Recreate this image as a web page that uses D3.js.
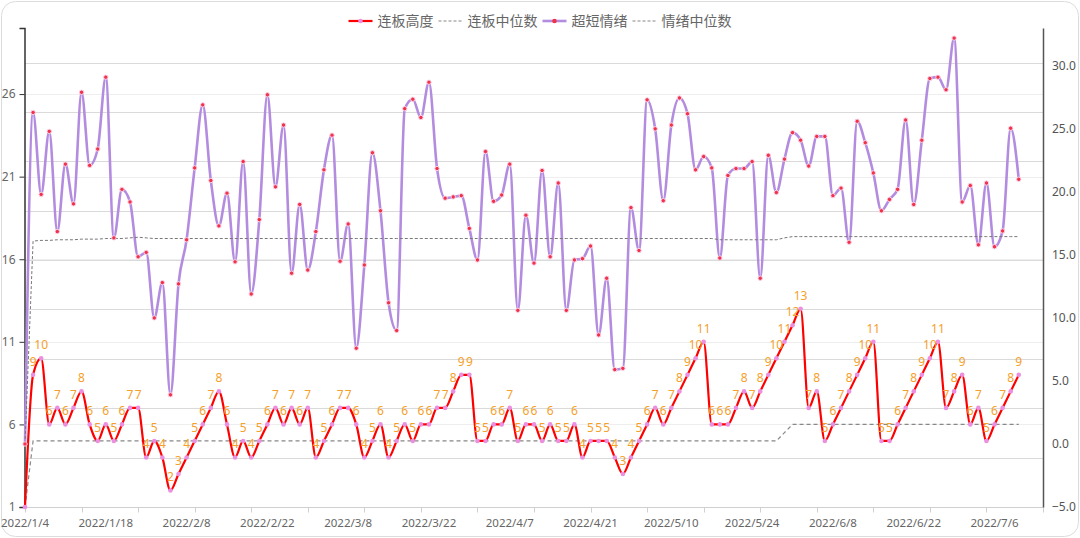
<!DOCTYPE html>
<html>
<head>
<meta charset="utf-8">
<script src="https://cdn.jsdelivr.net/npm/d3@7/dist/d3.min.js"></script>
<style>
  body { margin: 0; background: #fff; }
  svg { display: block; font-family: "Noto Sans", "Noto Sans CJK SC", sans-serif; }
</style>
</head>
<body>
<div id="chart"></div>
<script>
// trading days shown on the category axis
const dates = [
  "2022/1/4","2022/1/5","2022/1/6","2022/1/7","2022/1/10","2022/1/11","2022/1/12","2022/1/13","2022/1/14","2022/1/17",
  "2022/1/18","2022/1/19","2022/1/20","2022/1/21","2022/1/24","2022/1/25","2022/1/26","2022/1/27","2022/1/28",
  "2022/2/7","2022/2/8","2022/2/9","2022/2/10","2022/2/11","2022/2/14","2022/2/15","2022/2/16","2022/2/17","2022/2/18",
  "2022/2/21","2022/2/22","2022/2/23","2022/2/24","2022/2/25","2022/2/28",
  "2022/3/1","2022/3/2","2022/3/3","2022/3/4","2022/3/7","2022/3/8","2022/3/9","2022/3/10","2022/3/11","2022/3/14",
  "2022/3/15","2022/3/16","2022/3/17","2022/3/18","2022/3/21","2022/3/22","2022/3/23","2022/3/24","2022/3/25",
  "2022/3/28","2022/3/29","2022/3/30","2022/3/31",
  "2022/4/1","2022/4/6","2022/4/7","2022/4/8","2022/4/11","2022/4/12","2022/4/13","2022/4/14","2022/4/15","2022/4/18",
  "2022/4/19","2022/4/20","2022/4/21","2022/4/22","2022/4/25","2022/4/26","2022/4/27","2022/4/28","2022/4/29",
  "2022/5/5","2022/5/6","2022/5/9","2022/5/10","2022/5/11","2022/5/12","2022/5/13","2022/5/16","2022/5/17","2022/5/18",
  "2022/5/19","2022/5/20","2022/5/23","2022/5/24","2022/5/25","2022/5/26","2022/5/27","2022/5/30","2022/5/31",
  "2022/6/1","2022/6/2","2022/6/6","2022/6/7","2022/6/8","2022/6/9","2022/6/10","2022/6/13","2022/6/14","2022/6/15",
  "2022/6/16","2022/6/17","2022/6/20","2022/6/21","2022/6/22","2022/6/23","2022/6/24","2022/6/27","2022/6/28",
  "2022/6/29","2022/6/30",
  "2022/7/1","2022/7/4","2022/7/5","2022/7/6","2022/7/7","2022/7/8","2022/7/11","2022/7/12","2022/7/13","2022/7/14"
];

// 连板高度 (left axis)
const boardHeight = [
  1,9,10,6,7,6,7,8,6,5, 6,5,6,7,7,4,5,4,2,3,
  4,5,6,7,8,6,4,5,4,5, 6,7,6,7,6,7,4,5,6,7,
  7,6,4,5,6,4,5,6,5,6, 6,7,7,8,9,9,5,5,6,6,
  7,5,6,6,5,6,5,5,6,4, 5,5,5,4,3,4,5,6,7,6,
  7,8,9,10,11,6,6,6,7,8, 7,8,9,10,11,12,13,7,8,5,
  6,7,8,9,10,11,5,5,6,7, 8,9,10,11,7,8,9,6,7,5,
  6,7,8,9
];

// 连板中位数 (left axis)
const boardMedian = [
  1,5,5,5,5,5,5,5,5,5, 5,5,5,5,5,5,5,5,5,5,
  5,5,5,5,5,5,5,5,5,5, 5,5,5,5,5,5,5,5,5,5,
  5,5,5,5,5,5,5,5,5,5, 5,5,5,5,5,5,5,5,5,5,
  5,5,5,5,5,5,5,5,5,5, 5,5,5,5,5,5,5,5,5,5,
  5,5,5,5,5,5,5,5,5,5, 5,5,5,5,5.5,6,6,6,6,6,
  6,6,6,6,6,6,6,6,6,6, 6,6,6,6,6,6,6,6,6,6,
  6,6,6,6
];

// 超短情绪 (right axis)
const mood = [
  0,26.3,19.8,24.8,16.85,22.2,19.05,27.9,22.1,23.4,
  29.1,16.35,20.2,19.2,14.85,15.2,10.0,12.8,3.9,12.7,
  16.2,21.9,26.9,20.9,17.3,19.9,14.45,22.4,11.9,17.8,
  27.7,20.4,25.3,13.55,19.0,13.8,16.85,21.75,24.5,14.5,
  17.45,7.6,14.2,23.1,18.5,11.2,9.0,26.6,27.35,25.9,
  28.7,21.85,19.5,19.6,19.7,17.1,14.6,23.2,19.25,19.75,
  22.2,10.6,18.15,14.35,21.7,14.85,20.7,10.6,14.6,14.7,
  15.7,8.65,13.15,5.9,6.0,18.75,15.35,27.3,25.0,19.3,
  25.3,27.45,26.2,21.75,22.8,21.9,14.75,21.3,21.85,21.85,
  22.4,13.15,22.9,19.95,22.6,24.7,24.1,22.05,24.4,24.4,
  19.7,20.3,16.0,25.6,23.9,21.5,18.5,19.4,20.2,25.7,
  19.0,24.1,29.0,29.1,28.1,32.2,19.2,20.5,15.8,20.7,
  15.65,16.9,25.05,21.0
];

// 情绪中位数 (right axis)
const moodMedian = [
  0,16.1,16.15,16.15,16.2,16.2,16.2,16.25,16.25,16.25,
  16.3,16.3,16.3,16.35,16.4,16.35,16.3,16.3,16.3,16.3,
  16.3,16.3,16.3,16.3,16.3,16.3,16.3,16.3,16.3,16.3,
  16.3,16.3,16.3,16.3,16.3,16.3,16.3,16.3,16.3,16.3,
  16.3,16.3,16.3,16.3,16.3,16.3,16.3,16.3,16.3,16.3,
  16.3,16.3,16.3,16.3,16.3,16.3,16.3,16.3,16.3,16.3,
  16.3,16.3,16.3,16.3,16.3,16.3,16.3,16.3,16.3,16.3,
  16.3,16.3,16.3,16.3,16.3,16.3,16.3,16.3,16.3,16.3,
  16.3,16.3,16.3,16.3,16.3,16.3,16.2,16.2,16.2,16.2,
  16.2,16.2,16.2,16.2,16.35,16.45,16.45,16.45,16.45,16.45,
  16.45,16.45,16.45,16.45,16.45,16.45,16.45,16.45,16.45,16.45,
  16.45,16.45,16.45,16.45,16.45,16.45,16.45,16.45,16.45,16.45,
  16.45,16.45,16.45,16.45
];

const leftTicks = [1, 6, 11, 16, 21, 26];
const rightTicks = [-5, 0, 5, 10, 15, 20, 25, 30];
const labelDates = d3.range(0, 121, 10).map(i => dates[i]);
const legendNames = ["连板高度", "连板中位数", "超短情绪", "情绪中位数"];

const width = 1080, height = 538;
const plot = { left: 25, right: 1043, top: 28, bottom: 507 };

const svg = d3.select("#chart").append("svg")
    .attr("width", width)
    .attr("height", height);

svg.append("rect")
    .attr("x", 1.5).attr("y", 1.5)
    .attr("width", width - 3).attr("height", height - 3)
    .attr("rx", 14)
    .attr("fill", "#fff")
    .attr("stroke", "#dcdcdc");

const x = d3.scalePoint().domain(dates).range([plot.left, plot.right]);
const yLeft = d3.scaleLinear().domain([1, 30]).range([plot.bottom, plot.top]);
const yRight = d3.scaleLinear().domain([-5, 33]).range([plot.bottom, plot.top]);
// third (hidden) value axis whose split lines are drawn too
const yGrid = d3.scaleLinear().domain([0, 9.7]).range([plot.bottom, plot.top]);

// grid lines
svg.append("g")
    .selectAll("line")
    .data(d3.range(1, 10))
    .enter().append("line")
    .attr("x1", plot.left).attr("x2", plot.right)
    .attr("y1", d => Math.round(yGrid(d)) + 0.5)
    .attr("y2", d => Math.round(yGrid(d)) + 0.5)
    .attr("stroke", "#dadada");

svg.append("g")
    .selectAll("line")
    .data(leftTicks.slice(1))
    .enter().append("line")
    .attr("x1", plot.left).attr("x2", plot.right)
    .attr("y1", d => Math.round(yLeft(d)) + 0.5)
    .attr("y2", d => Math.round(yLeft(d)) + 0.5)
    .attr("stroke", "#eeeeee");

// x axis
const xAxis = svg.append("g")
    .attr("transform", `translate(0,${plot.bottom + 0.5})`);

xAxis.append("line")
    .attr("x1", plot.left).attr("x2", plot.right)
    .attr("stroke", "#d0d0d0");

xAxis.selectAll(".tick")
    .data(dates.filter((d, i) => i % 7 === 0))
    .enter().append("line")
    .attr("class", "tick")
    .attr("x1", d => Math.round(x(d)) + 0.5)
    .attr("x2", d => Math.round(x(d)) + 0.5)
    .attr("y1", 0).attr("y2", 5)
    .attr("stroke", "#d0d0d0");

xAxis.selectAll(".lbl")
    .data(labelDates)
    .enter().append("text")
    .attr("class", "lbl")
    .attr("x", d => x(d))
    .attr("y", 19)
    .attr("text-anchor", "middle")
    .attr("fill", "#666")
    .attr("font-size", 11.5)
    .text(d => d);

// left axis
const leftAxis = d3.axisLeft(yLeft).tickValues(leftTicks).tickSize(5).tickPadding(4);
svg.append("g")
    .attr("transform", `translate(${plot.left - 0.5},0)`)
    .call(leftAxis)
    .call(g => g.select(".domain").attr("stroke", "#333").attr("stroke-width", 1.5))
    .call(g => g.selectAll(".tick line").attr("stroke", "#333"))
    .call(g => g.selectAll(".tick text").attr("fill", "#666").attr("font-size", 12)
        .attr("font-family", "Noto Sans, sans-serif"));

// right axis
const rightAxis = d3.axisRight(yRight).tickValues(rightTicks).tickSize(0).tickPadding(9)
    .tickFormat(d3.format(".1f"));
svg.append("g")
    .attr("transform", `translate(${plot.right},0)`)
    .call(rightAxis)
    .call(g => g.select(".domain").attr("stroke", "#555").attr("stroke-width", 1.5))
    .call(g => g.selectAll(".tick text").attr("fill", "#555").attr("font-size", 12)
        .attr("font-family", "Noto Sans, sans-serif"));

// lines
const lineLeft = d3.line()
    .x((d, i) => x(dates[i]))
    .y(d => yLeft(d))
    .curve(d3.curveMonotoneX);

const lineRight = d3.line()
    .x((d, i) => x(dates[i]))
    .y(d => yRight(d))
    .curve(d3.curveMonotoneX);

const lineRightStraight = d3.line()
    .x((d, i) => x(dates[i]))
    .y(d => yRight(d));

const lineLeftStraight = d3.line()
    .x((d, i) => x(dates[i]))
    .y(d => yLeft(d));

const series = svg.append("g");

series.append("path")
    .attr("d", lineRight(mood))
    .attr("fill", "none")
    .attr("stroke", "#b38ce0")
    .attr("stroke-width", 2.6)
    .attr("stroke-linejoin", "round");

series.append("path")
    .attr("d", lineRightStraight(moodMedian))
    .attr("fill", "none")
    .attr("stroke", "#777")
    .attr("stroke-width", 1)
    .attr("stroke-dasharray", "3,2");

series.append("path")
    .attr("d", lineLeftStraight(boardMedian))
    .attr("fill", "none")
    .attr("stroke", "#888")
    .attr("stroke-width", 1.2)
    .attr("stroke-dasharray", "4,3");

series.append("path")
    .attr("d", lineLeft(boardHeight))
    .attr("fill", "none")
    .attr("stroke", "#ff0000")
    .attr("stroke-width", 2.2)
    .attr("stroke-linejoin", "round");

// points
series.append("g")
    .selectAll("circle")
    .data(mood)
    .enter().append("circle")
    .attr("cx", (d, i) => x(dates[i]))
    .attr("cy", d => yRight(d))
    .attr("r", 2.2)
    .attr("fill", "#f0324a")
    .attr("stroke", "#fbd3ea")
    .attr("stroke-width", 1);

series.append("g")
    .selectAll("circle")
    .data(boardHeight)
    .enter().append("circle")
    .attr("cx", (d, i) => x(dates[i]))
    .attr("cy", d => yLeft(d))
    .attr("r", 2.3)
    .attr("fill", "#ec8fe0");

// value labels
series.append("g")
    .selectAll("text")
    .data(boardHeight)
    .enter().append("text")
    .filter((d, i) => i > 0)
    .attr("x", (d, i) => x(dates[i + 1]))
    .attr("y", d => yLeft(d) - 9)
    .attr("text-anchor", "middle")
    .attr("fill", "#f5a02a")
    .attr("font-size", 12)
    .text(d => d);

// legend
const legend = svg.append("g").attr("transform", "translate(0,21)");
const styles = [
  { color: "#ff0000", dash: null, dot: "#ec8fe0", w: 2.2 },
  { color: "#888", dash: "3,2", dot: null, w: 1.2 },
  { color: "#b38ce0", dash: null, dot: "#f0324a", w: 2.6 },
  { color: "#888", dash: "3,2", dot: null, w: 1.2 }
];
let cursor = 0;
const items = legendNames.map((name, i) => {
  const g = legend.append("g");
  g.append("line")
      .attr("x1", 0).attr("x2", 24)
      .attr("stroke", styles[i].color)
      .attr("stroke-width", styles[i].w)
      .attr("stroke-dasharray", styles[i].dash);
  if (styles[i].dot) {
    g.append("circle").attr("cx", 12).attr("r", 2.3).attr("fill", styles[i].dot);
  }
  const t = g.append("text")
      .attr("x", 29)
      .attr("dy", "0.35em")
      .attr("fill", "#666")
      .attr("font-size", 14)
      .attr("font-family", "Noto Sans CJK SC, sans-serif")
      .text(name);
  const w = 29 + t.node().getComputedTextLength();
  g.attr("transform", `translate(${cursor},0)`);
  cursor += w + 5;
  return g;
});
legend.attr("transform", `translate(${(width - (cursor - 5)) / 2},21)`);
</script>
</body>
</html>
